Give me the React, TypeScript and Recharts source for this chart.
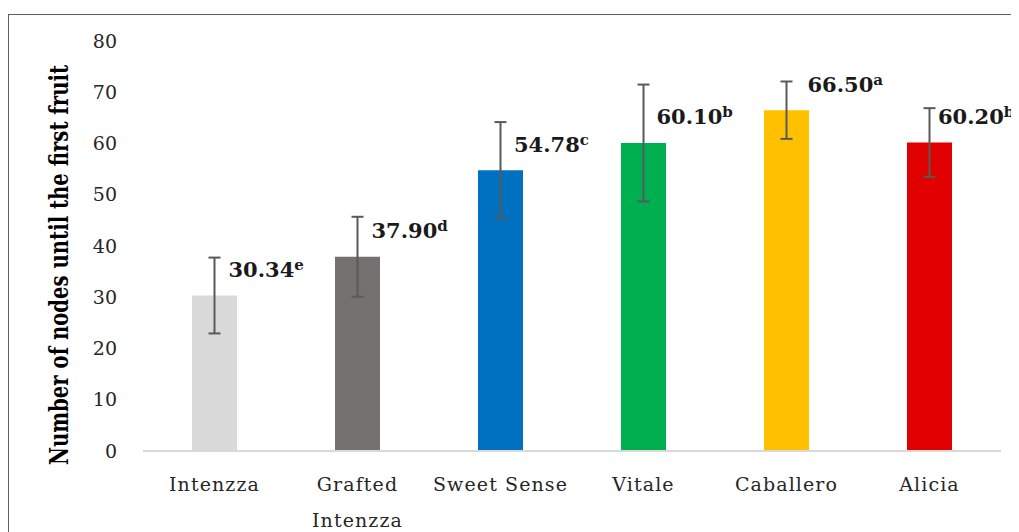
import React from 'react';
import { BarChart, Bar, XAxis, YAxis, ErrorBar, Cell, LabelList } from 'recharts';

const categories = ['Intenzza', 'Grafted\nIntenzza', 'Sweet Sense', 'Vitale', 'Caballero', 'Alicia'];
const nodes = [30.34, 37.9, 54.78, 60.1, 66.5, 60.2];
const errors = [7.4, 7.8, 9.4, 11.4, 5.6, 6.7];
const letters = ['e', 'd', 'c', 'b', 'a', 'b'];
const colors = ['#d9d9d9', '#767171', '#0070c0', '#00b050', '#ffc000', '#e00000'];
const yTicks = [0, 10, 20, 30, 40, 50, 60, 70, 80];
// horizontal nudge of each value label from its bar centre
const labelDx = [14, 14, 13.5, 13, 21, 8.5];

const data = categories.map((name, i) => ({
  name,
  value: nodes[i],
  err: errors[i],
  letter: letters[i],
}));

const FONT = '"DejaVu Serif", serif';

function CategoryTick(props: any) {
  const { x, y, payload } = props;
  const lines = String(payload.value).split('\n');
  return (
    <text
      x={x}
      y={y + 40}
      textAnchor="middle"
      fontFamily={FONT}
      fontSize={19}
      letterSpacing={1.1}
      fill="#262626"
    >
      {lines.map((l, i) => (
        <tspan key={i} x={x} dy={i === 0 ? 0 : 36}>{l}</tspan>
      ))}
    </text>
  );
}

function ValueLabel(props: any) {
  const { x, y, width, index } = props;
  const d = data[index];
  return (
    <text
      x={x + width / 2 + labelDx[index]}
      y={y - 18.5}
      fontFamily={FONT}
      fontWeight="bold"
      fontSize={21}
      fill="#1a1a1a"
    >
      {d.value.toFixed(2)}
      <tspan fontSize={15} dy={-7}>{d.letter}</tspan>
    </text>
  );
}

function YTitle() {
  return (
    <text
      transform="translate(60,257) scale(1.4,1) rotate(-90)"
      textAnchor="middle"
      fontFamily={FONT}
      fontWeight="bold"
      fontSize={19}
      fill="#000"
      textLength={400}
      lengthAdjust="spacingAndGlyphs"
    >
      Number of nodes until the first fruit
    </text>
  );
}

export default function App() {
  return (
    <div style={{ position: 'relative', width: 1011, height: 524, overflow: 'hidden', background: '#fff' }}>
      <div
        style={{
          position: 'absolute',
          left: 0,
          top: 6,
          width: 1200,
          height: 700,
          borderLeft: '1.5px solid #5f5f5f',
          borderTop: '1.5px solid #5f5f5f',
        }}
      />
      <div style={{ position: 'absolute', left: 0, top: 0 }}>
        <BarChart
          width={1011}
          height={524}
          data={data}
          margin={{ top: 33, right: 18, bottom: 0, left: 0 }}
        >
          <XAxis
            dataKey="name"
            height={81}
            interval={0}
            tickLine={false}
            tickSize={0}
            tickMargin={0}
            axisLine={{ stroke: '#d9d9d9', strokeWidth: 2 }}
            tick={<CategoryTick />}
          />
          <YAxis
            width={135}
            domain={[0, 80]}
            ticks={yTicks}
            axisLine={false}
            tickLine={false}
            tickSize={0}
            tickMargin={26}
            tick={{ fontFamily: FONT, fontSize: 19, fill: '#262626' }}
            label={{ content: () => <YTitle /> }}
          />
          <Bar dataKey="value" barSize={45} isAnimationActive={false}>
            {data.map((_, i) => (
              <Cell key={i} fill={colors[i]} />
            ))}
            <ErrorBar dataKey="err" width={6} stroke="#595959" strokeWidth={2} isAnimationActive={false} />
            <LabelList dataKey="value" content={<ValueLabel />} />
          </Bar>
        </BarChart>
      </div>
    </div>
  );
}
